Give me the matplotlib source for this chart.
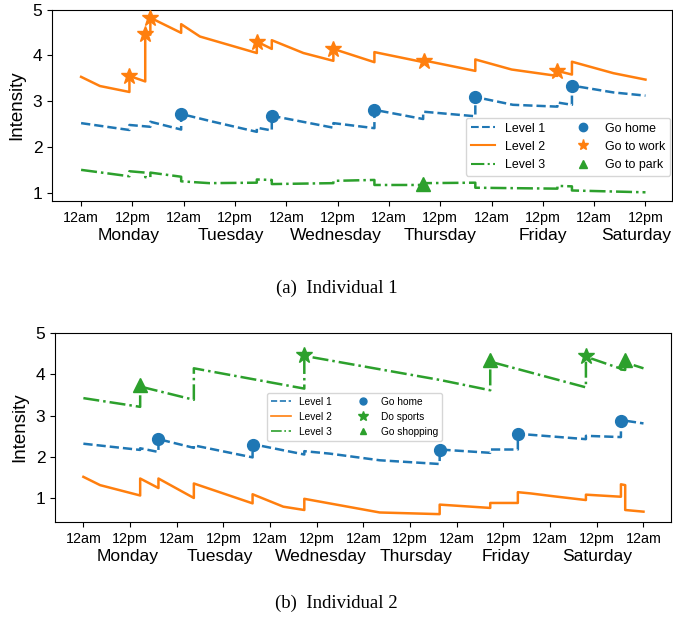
import matplotlib
matplotlib.use('Agg')
import matplotlib.pyplot as plt
from matplotlib.lines import Line2D

plt.rcParams['font.family'] = ['Liberation Sans', 'DejaVu Sans']

BLUE, ORANGE, GREEN = '#1f77b4', '#ff7f0e', '#2ca02c'
DAYS = ['Monday', 'Tuesday', 'Wednesday', 'Thursday', 'Friday', 'Saturday']

# ---- Individual 1 (hours since Monday 12am) ----
a_l1_t = [0, 11.3, 11.3, 16.2, 16.2, 23.4, 23.4, 30.9, 41.1, 41.1, 44.6, 44.6, 59.0, 59.0,
          68.6, 68.6, 80.0, 80.0, 92.2, 92.2, 101.0, 111.4, 111.4, 114.8, 114.8, 124.5, 132]
a_l1_v = [2.52, 2.37, 2.48, 2.44, 2.55, 2.38, 2.72, 2.55, 2.33, 2.42, 2.36, 2.68, 2.42, 2.52,
          2.41, 2.81, 2.61, 2.77, 2.67, 3.09, 2.92, 2.88, 2.97, 2.92, 3.34, 3.19, 3.12]
a_l2_t = [0, 4.4, 11.3, 11.3, 15.0, 15.0, 16.2, 16.2, 23.4, 23.4, 27.8, 41.1, 41.1, 44.6, 44.6,
          52.0, 59.0, 59.0, 68.6, 68.6, 80.1, 80.1, 92.2, 92.2, 100.7, 111.4, 111.4, 114.8,
          114.8, 124.5, 132]
a_l2_v = [3.53, 3.33, 3.20, 3.55, 3.43, 4.47, 4.45, 4.82, 4.49, 4.68, 4.41, 4.05, 4.30, 4.14,
          4.33, 4.05, 3.88, 4.14, 3.85, 4.07, 3.85, 3.89, 3.66, 3.91, 3.69, 3.55, 3.66, 3.58,
          3.86, 3.61, 3.47]
a_l3_t = [0, 11.3, 11.3, 15.0, 15.0, 16.2, 16.2, 23.4, 23.4, 30.0, 41.1, 41.1, 44.6, 44.6,
          59.0, 59.0, 68.6, 68.6, 80.0, 80.0, 92.2, 92.2, 111.4, 111.4, 114.8, 114.8, 132]
a_l3_v = [1.50, 1.36, 1.47, 1.44, 1.34, 1.34, 1.44, 1.35, 1.25, 1.21, 1.22, 1.29, 1.28, 1.19,
          1.21, 1.26, 1.28, 1.17, 1.17, 1.21, 1.22, 1.11, 1.09, 1.15, 1.14, 1.05, 1.01]
a_home_t = [23.4, 44.6, 68.6, 92.2, 114.8]
a_home_v = [2.72, 2.68, 2.81, 3.09, 3.34]
a_work_t = [11.3, 15.0, 16.2, 41.1, 58.8, 80.1, 111.4]
a_work_v = [3.55, 4.47, 4.82, 4.30, 4.14, 3.88, 3.66]
a_park_t = [80.0]
a_park_v = [1.19]

# ---- Individual 2 ----
b_l1_t = [0, 14.6, 14.6, 19.3, 19.3, 28.4, 28.4, 43.5, 43.5, 56.8, 56.8, 63.4, 76.2, 91.6,
          91.6, 104.6, 104.6, 111.7, 111.7, 129.2, 129.2, 138.2, 138.2, 144]
b_l1_v = [2.32, 2.17, 2.21, 2.12, 2.43, 2.22, 2.28, 1.99, 2.31, 2.06, 2.14, 2.08, 1.92, 1.83,
          2.18, 2.10, 2.18, 2.18, 2.56, 2.43, 2.51, 2.48, 2.89, 2.81]
b_l2_t = [0, 4.3, 14.6, 14.6, 19.3, 19.3, 28.4, 28.4, 43.5, 43.5, 51.4, 56.8, 56.8, 76.2,
          91.6, 91.6, 104.6, 104.6, 111.7, 111.7, 115.0, 121.0, 129.2, 129.2, 138.2, 138.2,
          139.3, 139.3, 144]
b_l2_v = [1.52, 1.32, 1.07, 1.48, 1.25, 1.48, 1.01, 1.36, 0.88, 1.10, 0.80, 0.72, 0.99, 0.66,
          0.62, 0.85, 0.77, 0.89, 0.89, 1.15, 1.12, 1.05, 0.96, 1.09, 1.04, 1.34, 1.32, 0.72,
          0.68]
b_l3_t = [0, 14.6, 14.6, 28.4, 28.4, 56.8, 56.8, 91.6, 104.6, 104.6, 129.2, 129.2, 138.2,
          138.2, 139.3, 139.3, 144]
b_l3_v = [3.42, 3.21, 3.70, 3.38, 4.14, 3.65, 4.44, 3.86, 3.61, 4.30, 3.68, 4.42, 4.13, 4.11,
          4.10, 4.28, 4.14]
b_home_t = [19.3, 43.5, 91.6, 111.7, 138.2]
b_home_v = [2.43, 2.30, 2.18, 2.55, 2.88]
b_sport_t = [56.8, 129.2]
b_sport_v = [4.46, 4.43]
b_shop_t = [14.6, 104.6, 139.3]
b_shop_v = [3.73, 4.34, 4.33]


def style_axis(ax, n_ticks, xlim, ylim, day_x):
    ax.set_xlim(*xlim)
    ax.set_ylim(*ylim)
    ticks = [12 * i for i in range(n_ticks)]
    ax.set_xticks(ticks)
    ax.set_xticklabels(['12am' if i % 2 == 0 else '12pm' for i in range(n_ticks)], fontsize=10.3)
    ax.set_yticks([1, 2, 3, 4, 5])
    ax.tick_params(axis='y', labelsize=12.5)
    ax.set_ylabel('Intensity', fontsize=13.5, labelpad=5)
    for name, x in zip(DAYS, day_x):
        ax.annotate(name, xy=(x, 0), xycoords=('data', 'axes fraction'),
                    xytext=(0, -28), textcoords='offset points',
                    ha='center', va='baseline', fontsize=12.6, annotation_clip=False)


fig = plt.figure(figsize=(6.73, 6.21), dpi=100)
axA = fig.add_axes([0.0773, 0.6763, 0.9212, 0.3084])
axB = fig.add_axes([0.0817, 0.1594, 0.9149, 0.3049])

# ---- panel (a) ----
lw = 1.8
axA.plot(a_l1_t, a_l1_v, color=BLUE, ls='--', lw=lw)
axA.plot(a_l2_t, a_l2_v, color=ORANGE, ls='-', lw=lw)
axA.plot(a_l3_t, a_l3_v, color=GREEN, ls='-.', lw=lw)
axA.plot(a_home_t, a_home_v, ls='none', marker='o', ms=8.5, color=BLUE, zorder=3)
axA.plot(a_work_t, a_work_v, ls='none', marker='*', ms=12, color=ORANGE, zorder=3)
axA.plot(a_park_t, a_park_v, ls='none', marker='^', ms=10.5, color=GREEN, zorder=3)
style_axis(axA, 12, (-6.8, 138.2), (0.82, 5.0), [11, 35, 59.5, 84, 108, 129.8])

handlesA = [Line2D([], [], color=BLUE, ls='--', lw=1.5),
            Line2D([], [], color=ORANGE, ls='-', lw=1.5),
            Line2D([], [], color=GREEN, ls='-.', lw=1.5),
            Line2D([], [], color=BLUE, ls='none', marker='o', ms=6),
            Line2D([], [], color=ORANGE, ls='none', marker='*', ms=8),
            Line2D([], [], color=GREEN, ls='none', marker='^', ms=6)]
axA.legend(handlesA, ['Level 1', 'Level 2', 'Level 3', 'Go home', 'Go to work', 'Go to park'],
           ncol=2, fontsize=8.9, loc='lower right', bbox_to_anchor=(0.997, 0.131),
           borderaxespad=0)

# ---- panel (b) ----
axB.plot(b_l1_t, b_l1_v, color=BLUE, ls='--', lw=lw)
axB.plot(b_l2_t, b_l2_v, color=ORANGE, ls='-', lw=lw)
axB.plot(b_l3_t, b_l3_v, color=GREEN, ls='-.', lw=lw)
axB.plot(b_home_t, b_home_v, ls='none', marker='o', ms=8.5, color=BLUE, zorder=3)
axB.plot(b_sport_t, b_sport_v, ls='none', marker='*', ms=12, color=GREEN, zorder=3)
axB.plot(b_shop_t, b_shop_v, ls='none', marker='^', ms=10.5, color=GREEN, zorder=3)
style_axis(axB, 13, (-7.3, 151), (0.43, 5.0), [11.5, 35, 61, 85.5, 108.5, 132])

handlesB = [Line2D([], [], color=BLUE, ls='--', lw=1.2),
            Line2D([], [], color=ORANGE, ls='-', lw=1.2),
            Line2D([], [], color=GREEN, ls='-.', lw=1.2),
            Line2D([], [], color=BLUE, ls='none', marker='o', ms=5),
            Line2D([], [], color=GREEN, ls='none', marker='*', ms=7),
            Line2D([], [], color=GREEN, ls='none', marker='^', ms=5)]
axB.legend(handlesB, ['Level 1', 'Level 2', 'Level 3', 'Go home', 'Do sports', 'Go shopping'],
           ncol=2, fontsize=7.3, loc='upper left', bbox_to_anchor=(0.344, 0.683),
           borderaxespad=0)

fig.text(0.5, 1 - 288 / 621, '(a)  Individual 1', ha='center', va='center',
         family=['Liberation Serif', 'DejaVu Serif'], fontsize=13.5)
fig.text(0.5, 1 - 603 / 621, '(b)  Individual 2', ha='center', va='center',
         family=['Liberation Serif', 'DejaVu Serif'], fontsize=13.5)

fig.savefig('out.png', dpi=100)
